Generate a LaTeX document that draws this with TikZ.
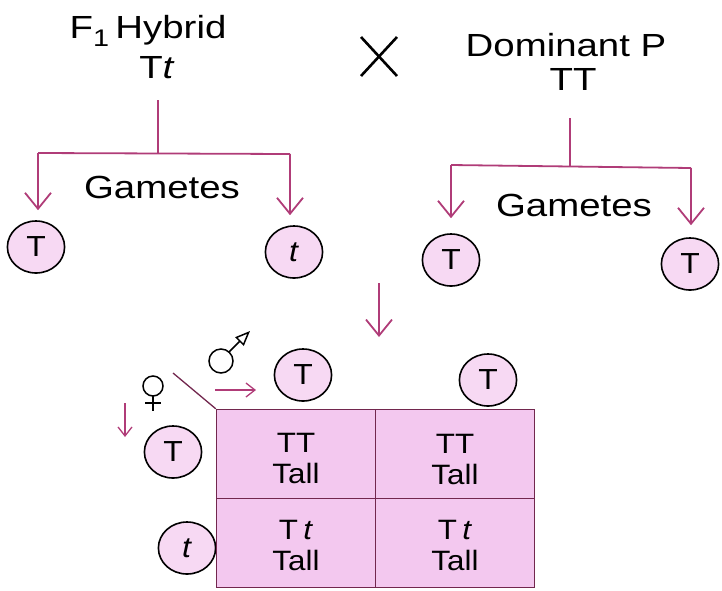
\documentclass[tikz,border=0pt]{standalone}
\usepackage{fontspec}
\setmainfont{Liberation Sans}
\usetikzlibrary{arrows.meta}
\definecolor{linepink}{HTML}{B03C78}
\definecolor{cellpink}{HTML}{F3C8EF}
\definecolor{gampink}{HTML}{F7D9F3}
\tikzset{
 txt/.style={font=\fontsize{32}{34}\selectfont, xscale=1.2, inner sep=0pt},
 celltxt/.style={font=\fontsize{28}{31}\selectfont, xscale=1.12, align=center, inner sep=0pt},
 gamete/.style={circle, draw=black, line width=1.6pt, fill=gampink, minimum size=52pt,
   inner sep=0pt, xscale=1.1, font=\fontsize{29}{30}\selectfont},
 cell/.style={rectangle, draw=linepink!65!black, line width=1.4pt, fill=cellpink,
   minimum width=159pt, minimum height=89pt},
 link/.style={draw=linepink, line width=1.8pt},
 dart/.style={link, -{Straight Barb[length=16pt,width=26pt,line width=1.8pt]}},
 smalldart/.style={link, line width=1.3pt, -{Straight Barb[length=9pt,width=14pt,line width=1.3pt]}},
}
\begin{document}
\begin{tikzpicture}[x=1pt,y=-1pt]
    \useasboundingbox (0,0) rectangle (722,590);
    % parents
    \node[txt] (hyb) at (148,31) {F\raisebox{-8pt}{\fontsize{24}{24}\selectfont 1}\,Hybrid};
    \node[txt] (hybg) at (157,68) {T\textit{t}};
    \node[txt] (dom) at (566,45) {Dominant P};
    \node[txt] (domg) at (573,79) {TT};
    \draw[line width=2.6pt] (361,37) -- (397,76) (361,76) -- (397,37);
    % left gametes
    \coordinate (lt) at (158,100);
    \coordinate (lf) at (158,153);
    \coordinate (ll) at (38,153);
    \coordinate (lr) at (290,154);
    \node[gamete] (g1) at (36,247) {T};
    \node[gamete] (g2) at (294,252) {\textit{t}};
    \node[txt] (lgam) at (162,187) {Gametes};
    \draw[link] (lt) -- (lf) (ll) -- (lr);
    \draw[dart, shorten >=10pt] (ll) -- (ll |- g1.north);
    \draw[dart, shorten >=10pt] (lr) -- (lr |- g2.north);
    % right gametes
    \coordinate (rt) at (570,118);
    \coordinate (rf) at (570,166);
    \coordinate (rl) at (451,165);
    \coordinate (rr) at (691,168);
    \node[gamete] (g3) at (451,260) {T};
    \node[gamete] (g4) at (690,264) {T};
    \node[txt] (rgam) at (574,205) {Gametes};
    \draw[link] (rt) -- (rf) (rl) -- (rr);
    \draw[dart, shorten >=15pt] (rl) -- (rl |- g3.north);
    \draw[dart, shorten >=12pt] (rr) -- (rr |- g4.north);
    % down to the square
    \coordinate (dtop) at (379,283);
    \coordinate (dbot) at (379,337);
    \draw[dart] (dtop) -- (dbot);
    % punnett square
    \node[gamete] (m1) at (303,375) {T};
    \node[gamete] (m2) at (488,380) {T};
    \node[gamete] (f1) at (173,452) {T};
    \node[gamete] (f2) at (187,548) {\textit{t}};
    \node[cell] (c11) at (296,454) {};
    \node[cell] (c12) at (455,454) {};
    \node[cell] (c21) at (296,543) {};
    \node[cell] (c22) at (455,543) {};
    \node[celltxt] at ([yshift=-4pt]c11) {TT\\Tall};
    \node[celltxt] at ([yshift=-5pt]c12) {TT\\Tall};
    \node[celltxt] at ([yshift=-2pt]c21) {T\,\textit{t}\\Tall};
    \node[celltxt] at ([yshift=-2pt]c22) {T\,\textit{t}\\Tall};
    \draw[linepink!65!black, line width=1.3pt] (173,373) -- (c11.north west);
    % sex signs
    \draw[line width=1.5pt] (221,361) circle (12);
    \draw[line width=1.5pt, -{Triangle[open,length=15pt,width=12pt,line width=1.5pt]}] (229,352) -- (250,331);
    \draw[line width=1.5pt] (153,386) circle (10);
    \draw[line width=1.5pt] (153,396) -- (153,411) (145,403) -- (161,403);
    \coordinate (fa) at (125,403);
    \coordinate (fb) at (125,437);
    \coordinate (ma) at (215,390);
    \coordinate (mb) at (256,390);
    \draw[smalldart] (fa) -- (fb);
    \draw[smalldart] (ma) -- (mb);
\end{tikzpicture}
\end{document}
